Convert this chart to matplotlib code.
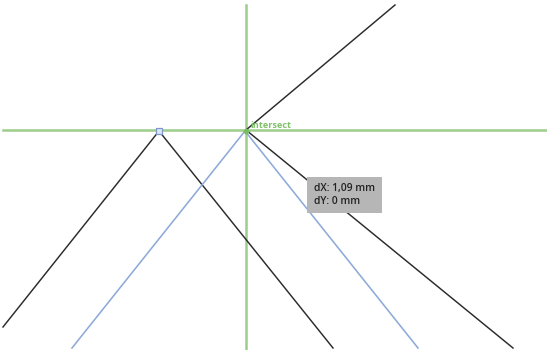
"""Recreation of a snapping screenshot: guides, two paths and a dX/dY readout."""
import matplotlib
matplotlib.use("Agg")
import matplotlib.pyplot as plt
from matplotlib.patches import Rectangle

# canvas size in pixels
W, H = 547, 350

# smart guides (green)
guide_x = 246
guide_y = 130

# black paths (pixel coords, y downwards)
path_a_x = [3, 159, 333]
path_a_y = [327, 131, 348]
path_b_x = [395, 246, 513]
path_b_y = [5, 130, 348]

# blue (moved) path
blue_x = [72, 245, 418]
blue_y = [348, 131, 348]

anchor = (159, 131)
intersect_label = "intersect"
readout = ["dX: 1,09 mm", "dY: 0 mm"]

plt.rcParams["font.family"] = ["Open Sans", "DejaVu Sans"]
fig = plt.figure(figsize=(W / 100, H / 100), dpi=100)
ax = fig.add_axes([0, 0, 1, 1])
ax.set_xlim(0, W)
ax.set_ylim(H, 0)
ax.axis("off")

green = "#9ccd8a"
ax.plot([guide_x, guide_x], [5, H], color=green, lw=1.8, zorder=1)
ax.plot([3, W], [guide_y, guide_y], color=green, lw=1.8, zorder=1)

ax.plot(path_a_x, path_a_y, color="#2a2a2a", lw=1.05, zorder=2)
ax.plot(path_b_x, path_b_y, color="#2a2a2a", lw=1.05, zorder=2)
ax.plot(blue_x, blue_y, color="#8eaad9", lw=1.15, zorder=3)

ax.plot(*anchor, marker="s", ms=4.5, mfc="#dfe6f5", mec="#7f98cc", mew=0.9, zorder=4)
ax.plot(guide_x, guide_y + 1, marker="o", ms=3, color="#78bc62", zorder=4)
ax.text(250, 127.5, intersect_label, color="#80c06a", fontsize=6.6, fontweight="bold",
        ha="left", va="baseline", zorder=5)

ax.add_patch(Rectangle((307, 177), 75, 36, facecolor="#b6b6b6", edgecolor="none", zorder=6))
ax.text(314, 188, readout[0], color="#222222", fontsize=7.4, fontweight="semibold",
        va="center", ha="left", zorder=7)
ax.text(314, 202, readout[1], color="#222222", fontsize=7.4, fontweight="semibold",
        va="center", ha="left", zorder=7)

fig.savefig("out.png", dpi=100, facecolor="white")
